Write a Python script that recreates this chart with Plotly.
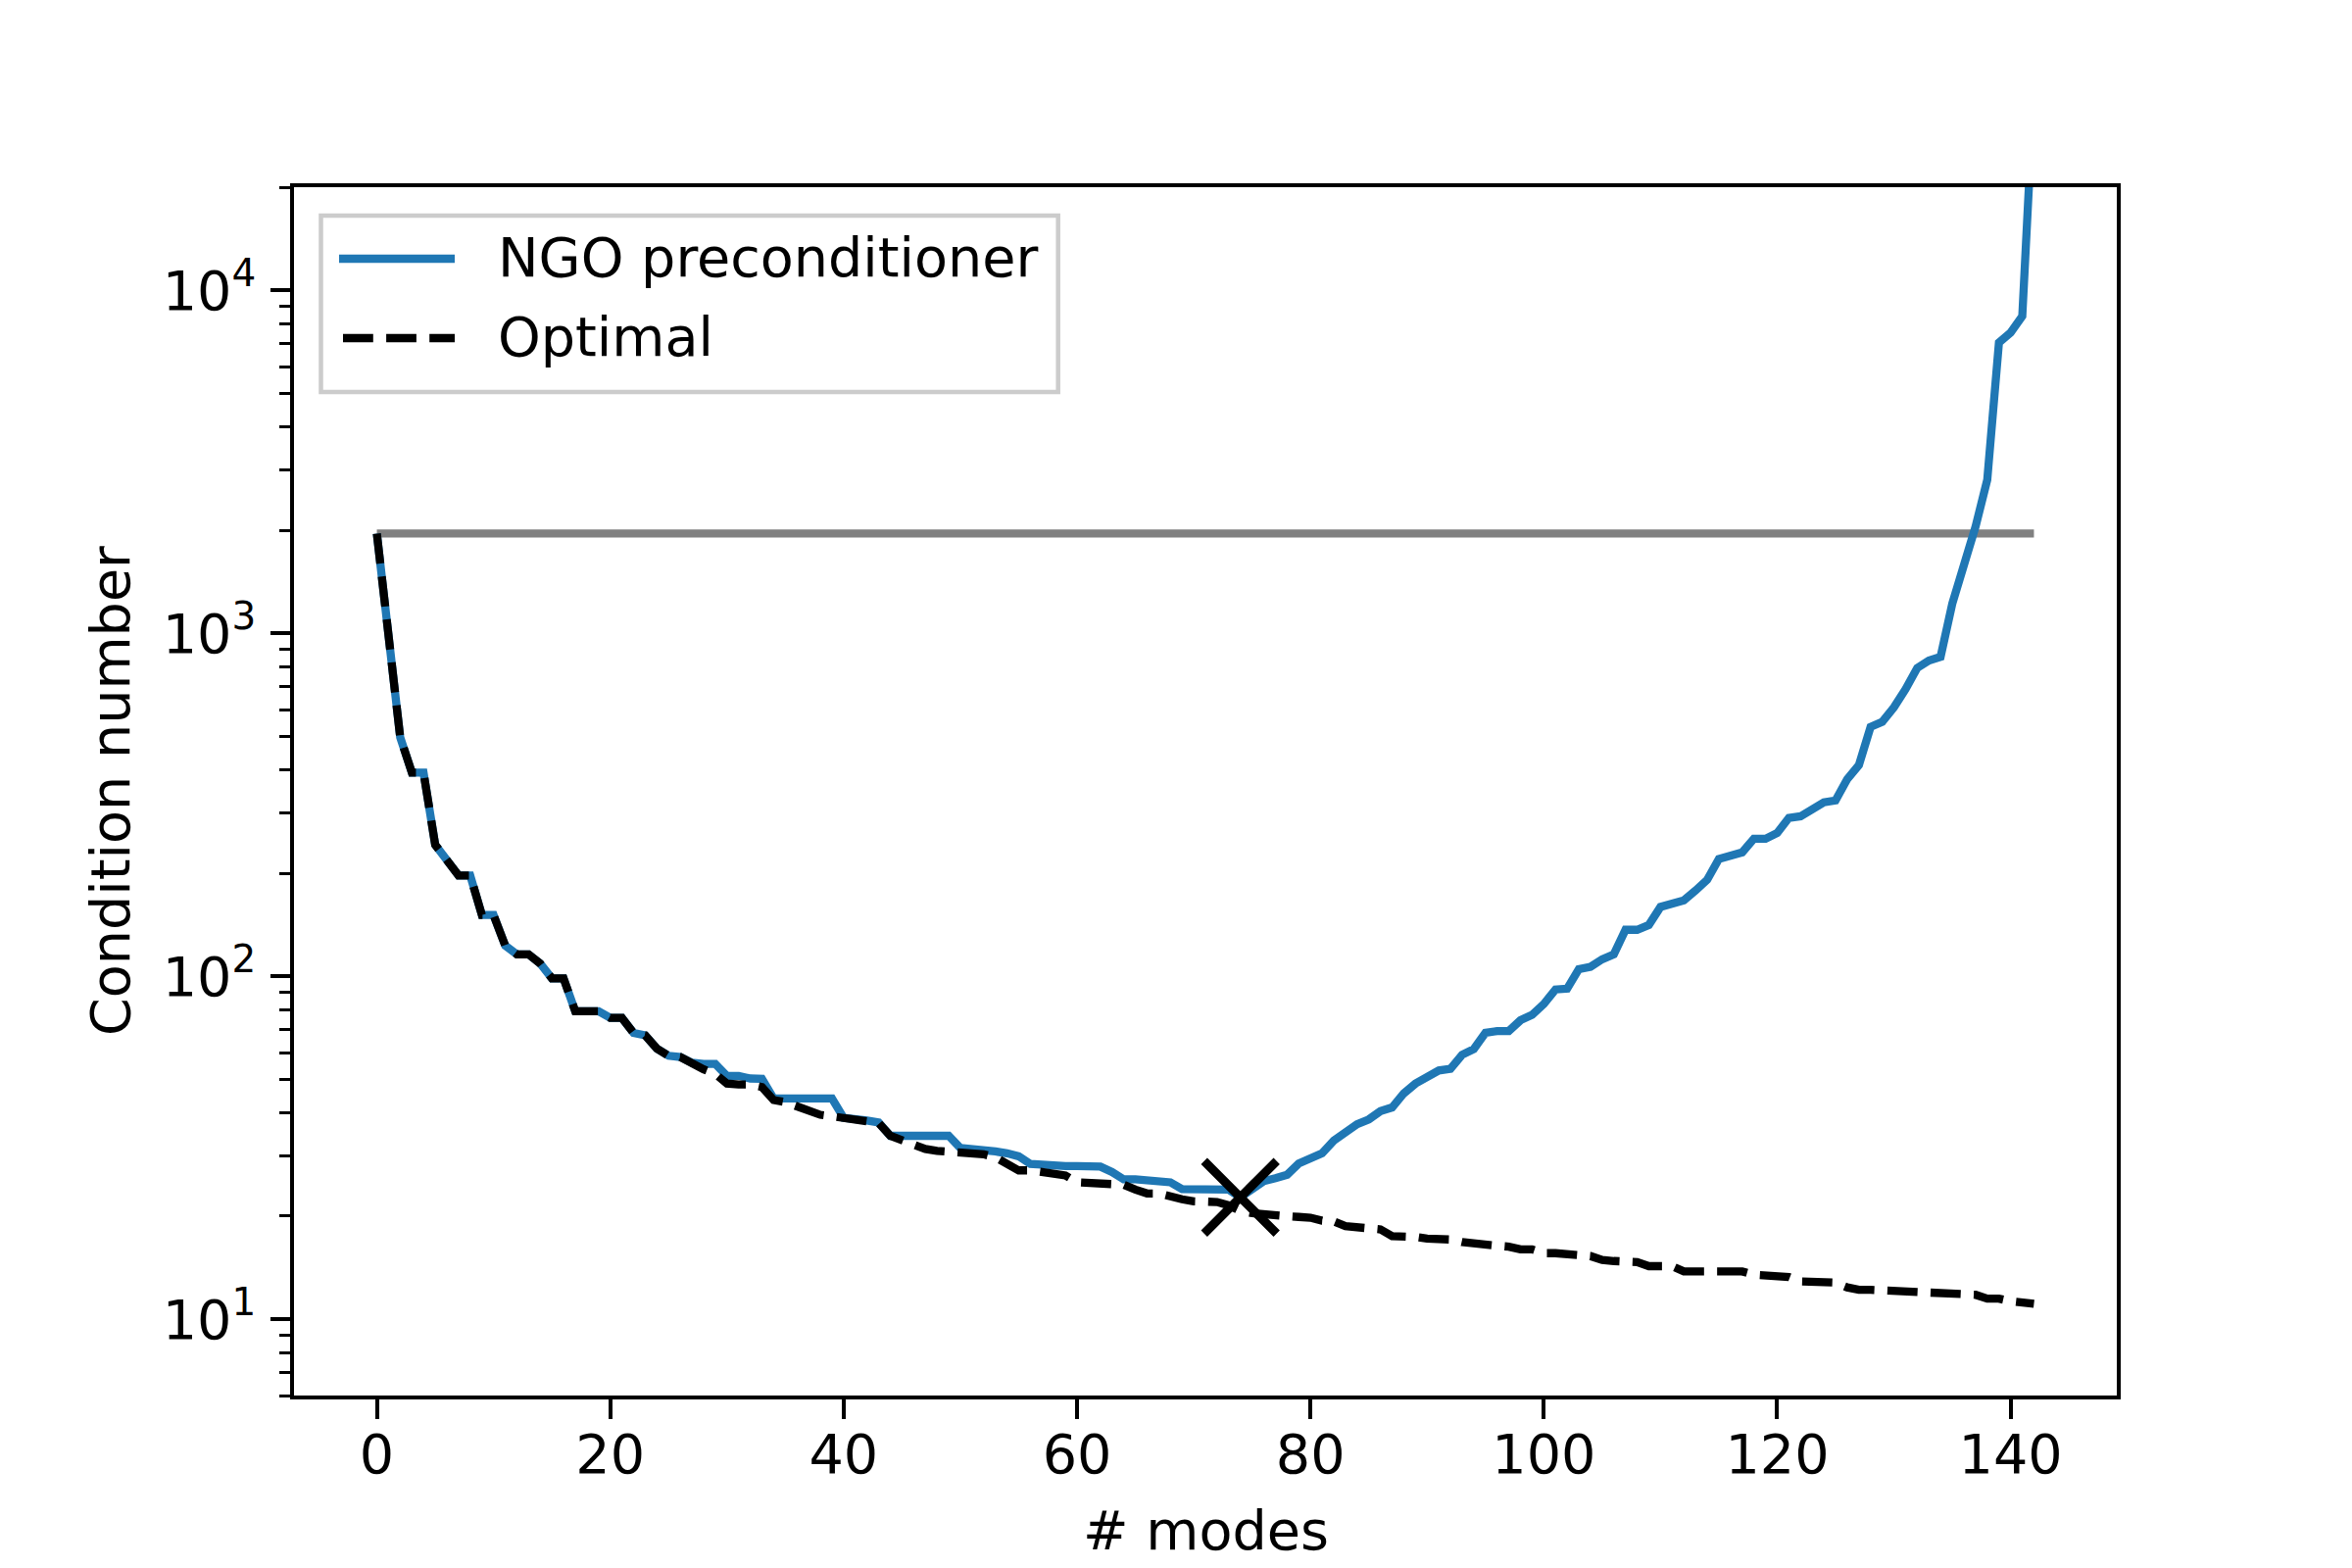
import numpy as np
import plotly.graph_objects as go

# ---------------- data ----------------
modes = list(range(0, 143))

ngo = [
    1955, 990, 498, 393, 393, 242, 220, 197, 197, 151,
    151, 123, 116, 116, 109, 98.7, 98.7, 79.2, 79.2, 79.2,
    75.7, 75.7, 68.4, 67.3, 61.6, 58.7, 58.2, 56.0, 55.6, 55.6,
    51.3, 51.3, 50.4, 50.3, 44.1, 44.1, 44.1, 44.1, 44.1, 44.1,
    38.7, 38.6, 38.0, 37.5, 34.3, 34.3, 34.3, 34.3, 34.3, 34.3,
    31.6, 31.5, 31.4, 30.9, 30.5, 29.9, 28.4, 28.2, 28.0, 28.0,
    28.0, 27.9, 27.9, 26.9, 25.6, 25.6, 25.5, 25.2, 25.1, 24.0,
    23.9, 23.9, 23.9, 23.9, 22.7, 24.1, 25.3, 25.8, 26.4, 28.5,
    29.7, 30.5, 33.2, 35.2, 37.1, 38.3, 40.5, 41.5, 45.6, 48.7,
    51.2, 53.2, 53.8, 59.1, 61.4, 68.5, 69.3, 69.3, 74.5, 77.3,
    83.1, 91.6, 92.1, 105, 106.7, 112.2, 116, 136.8, 136.8, 141.3,
    159.5, 162.3, 166.7, 178, 191.3, 220, 224, 230, 252, 252,
    262, 290, 293, 308, 322, 326, 376, 413, 534, 552,
    609, 688, 793, 834, 855, 1220, 1575, 2050, 2806, 7045,
    7530, 8410, 39000,
]

optimal = [
    1955, 990, 498, 393, 393, 242, 220, 197, 197, 151,
    151, 123, 116, 116, 109, 98.7, 98.7, 79.2, 79.2, 79.2,
    75.7, 75.7, 68.4, 67.3, 61.6, 58.7, 58.2, 55.5, 53.6, 52.0,
    48.7, 48.4, 48.4, 47.6, 43.6, 43.0, 41.8, 40.1, 39.5, 39.1,
    38.7, 38.4, 38.0, 37.4, 34.3, 33.2, 32.5, 31.4, 31.0, 30.9,
    30.9, 30.7, 30.3, 29.7, 28.4, 27.2, 27.2, 26.9, 26.6, 26.3,
    25.1, 25.0, 24.8, 24.8, 24.7, 23.9, 23.3, 23.3, 23.0, 22.4,
    22.1, 22.1, 22.0, 21.5, 20.7, 20.4, 20.2, 20.1, 20.0, 19.9,
    19.8, 19.4, 19.3, 18.7, 18.5, 18.5, 18.3, 17.5, 17.5, 17.4,
    17.2, 17.2, 17.1, 16.8, 16.6, 16.5, 16.4, 16.3, 16.0, 16.0,
    15.6, 15.6, 15.6, 15.4, 15.3, 14.9, 14.8, 14.8, 14.7, 14.3,
    14.3, 14.3, 13.8, 13.8, 13.8, 13.8, 13.8, 13.8, 13.5, 13.4,
    13.3, 13.3, 12.9, 12.9, 12.9, 12.8, 12.4, 12.2, 12.2, 12.15,
    12.15, 12.1, 12.08, 12.0, 11.96, 11.9, 11.9, 11.8, 11.5, 11.5,
    11.3, 11.2, 11.1,
]

baseline_x = [0, 142]
baseline_kappa = [1955, 1955]

best_mode = [74]
best_kappa = [22.7]

x_ticks = [0, 20, 40, 60, 80, 100, 120, 140]
y_ticks = [10, 100, 1000, 10000]
y_ticktext = ["10<sup>1</sup>", "10<sup>2</sup>", "10<sup>3</sup>", "10<sup>4</sup>"]
y_minor = [6, 7, 8, 9] + [d * 10 for d in range(2, 10)] + [d * 100 for d in range(2, 10)] \
    + [d * 1000 for d in range(2, 10)] + [20000]

legend_labels = ["NGO preconditioner", "Optimal"]

# ---------------- styling ----------------
W, H = 2400, 1600
L, R, T, B = 300, 240, 191, 176
PW, PH = W - L - R, H - T - B
FONT = "DejaVu Sans"
FS = 55.6
LW = 8.3
BLUE = "#1f77b4"
DASH = "30.8px,13.3px"


def px2paper_x(px):
    return (px - L) / PW


def px2paper_y(py):
    return (H - B - py) / PH


fig = go.Figure()

fig.add_trace(go.Scatter(x=baseline_x, y=baseline_kappa, mode="lines",
                         line=dict(color="#808080", width=LW), showlegend=False))
fig.add_trace(go.Scatter(x=modes, y=ngo, mode="lines",
                         line=dict(color=BLUE, width=LW), showlegend=False))
fig.add_trace(go.Scatter(x=modes, y=optimal, mode="lines",
                         line=dict(color="black", width=LW, dash=DASH), showlegend=False))
fig.add_trace(go.Scatter(x=best_mode, y=best_kappa, mode="markers",
                         marker=dict(symbol="x-thin", size=74, color="black",
                                     line=dict(width=9, color="black")),
                         showlegend=False))

fig.update_xaxes(
    range=[-7.1, 149.1], tickvals=x_ticks, ticks="outside", ticklen=19.4, tickwidth=4.4,
    tickcolor="black", showline=True, linewidth=4.4, linecolor="black", mirror=True,
    showgrid=False, zeroline=False, tickfont=dict(family=FONT, size=FS, color="black"),
    ticklabelstandoff=-11,
)
fig.update_yaxes(
    type="log", range=[np.log10(6), np.log10(20000)], tickvals=y_ticks, ticktext=y_ticktext,
    ticks="outside", ticklen=19.4, tickwidth=4.4, tickcolor="black",
    showline=True, linewidth=4.4, linecolor="black", mirror=True,
    showgrid=False, zeroline=False, tickfont=dict(family=FONT, size=FS, color="black"),
    ticklabelstandoff=4,
    minor=dict(tickvals=y_minor, ticks="outside", ticklen=11, tickwidth=3.3,
               tickcolor="black", showgrid=False),
)

annotations = [
    dict(text="Condition number", xref="paper", yref="paper",
         x=px2paper_x(112), y=px2paper_y(807), textangle=-90, showarrow=False,
         xanchor="center", yanchor="middle", font=dict(family=FONT, size=FS, color="black")),
    dict(text="# modes", xref="paper", yref="paper",
         x=0.5, y=px2paper_y(1561), showarrow=False,
         xanchor="center", yanchor="middle", font=dict(family=FONT, size=FS, color="black")),
]

# manual legend (matplotlib style)
shapes = [
    dict(type="rect", xref="paper", yref="paper",
         x0=px2paper_x(327.5), x1=px2paper_x(1079.7), y0=px2paper_y(400), y1=px2paper_y(220),
         line=dict(color="#cccccc", width=4.5), fillcolor="white", layer="above"),
    dict(type="line", xref="paper", yref="paper",
         x0=px2paper_x(346), x1=px2paper_x(464), y0=px2paper_y(264), y1=px2paper_y(264),
         line=dict(color=BLUE, width=LW), layer="above"),
    dict(type="line", xref="paper", yref="paper",
         x0=px2paper_x(350), x1=px2paper_x(464), y0=px2paper_y(345), y1=px2paper_y(345),
         line=dict(color="black", width=LW, dash=DASH), layer="above"),
]
for label, yc in zip(legend_labels, [262, 343]):
    annotations.append(dict(text=label, xref="paper", yref="paper",
                            x=px2paper_x(506), y=px2paper_y(yc), showarrow=False,
                            xanchor="left", yanchor="middle",
                            font=dict(family=FONT, size=FS, color="black")))

fig.update_layout(
    width=W, height=H, margin=dict(l=L, r=R, t=T, b=B, autoexpand=False),
    paper_bgcolor="white", plot_bgcolor="white",
    showlegend=False, annotations=annotations, shapes=shapes,
    font=dict(family=FONT, size=FS, color="black"),
)

fig.write_html("out.html", config={"displayModeBar": False},
               post_script="document.body.style.margin='0';")
